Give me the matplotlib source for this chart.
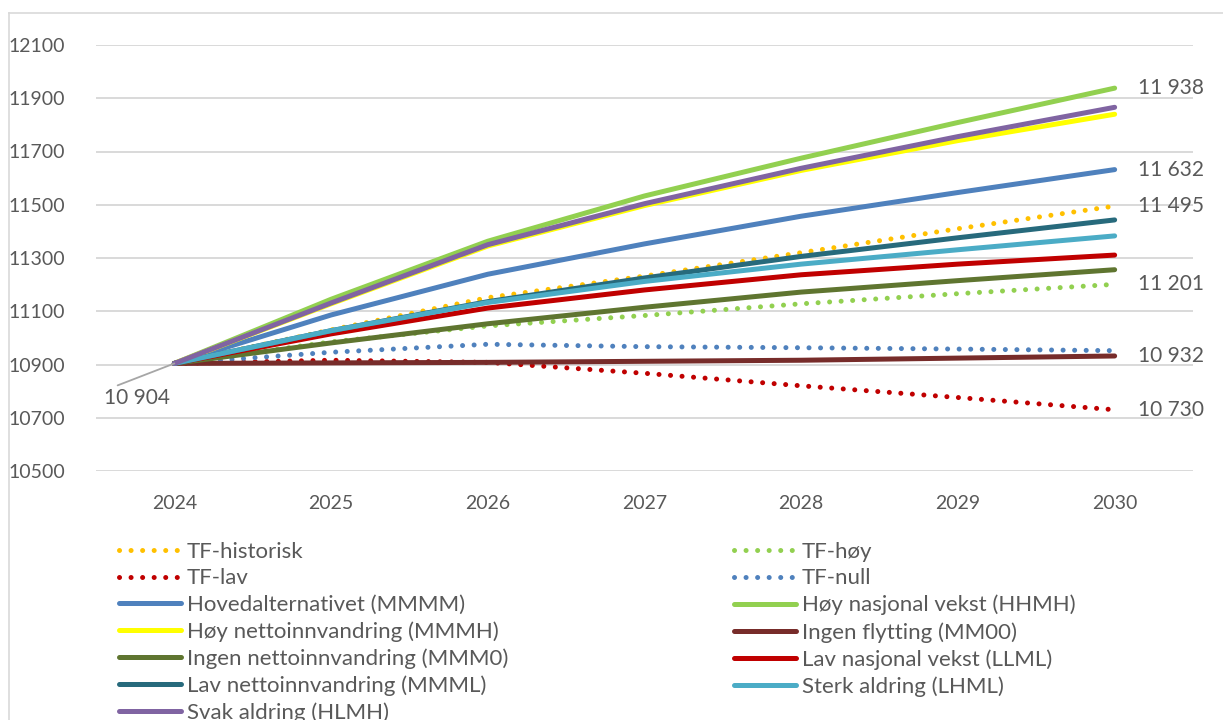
import matplotlib
matplotlib.use("Agg")
import matplotlib.pyplot as plt
from matplotlib.lines import Line2D

plt.rcParams["font.family"] = ["Lato", "DejaVu Sans"]

years = ["2024", "2025", "2026", "2027", "2028", "2029", "2030"]

tf_historisk = [10904, 11030, 11151, 11232, 11320, 11410, 11495]
tf_hoy = [10904, 10985, 11045, 11084, 11128, 11166, 11201]
tf_lav = [10904, 10916, 10908, 10867, 10820, 10776, 10730]
tf_null = [10904, 10946, 10976, 10967, 10963, 10958, 10952]
hovedalt = [10904, 11086, 11239, 11353, 11457, 11546, 11632]
hoy_nasjonal = [10904, 11145, 11363, 11533, 11675, 11809, 11938]
hoy_netto = [10904, 11128, 11345, 11497, 11629, 11741, 11840]
ingen_flytting = [10904, 10906, 10908, 10912, 10916, 10924, 10932]
ingen_netto = [10904, 10981, 11053, 11115, 11172, 11215, 11256]
lav_nasjonal = [10904, 11015, 11112, 11180, 11237, 11277, 11311]
lav_netto = [10904, 11027, 11136, 11225, 11306, 11376, 11443]
sterk_aldring = [10904, 11027, 11133, 11212, 11277, 11331, 11383]
svak_aldring = [10904, 11131, 11350, 11504, 11637, 11756, 11866]

# (label, values, colour, dotted)
series = [
    ("TF-historisk", tf_historisk, "#FFC000", True),
    ("TF-høy", tf_hoy, "#92D050", True),
    ("TF-lav", tf_lav, "#C00000", True),
    ("TF-null", tf_null, "#4F81BD", True),
    ("Hovedalternativet (MMMM)", hovedalt, "#4F81BD", False),
    ("Høy nasjonal vekst (HHMH)", hoy_nasjonal, "#92D050", False),
    ("Høy nettoinnvandring (MMMH)", hoy_netto, "#FFFF00", False),
    ("Ingen flytting (MM00)", ingen_flytting, "#772C2A", False),
    ("Ingen nettoinnvandring (MMM0)", ingen_netto, "#5F7530", False),
    ("Lav nasjonal vekst (LLML)", lav_nasjonal, "#C00000", False),
    ("Lav nettoinnvandring (MMML)", lav_netto, "#276A7C", False),
    ("Sterk aldring (LHML)", sterk_aldring, "#4BACC6", False),
    ("Svak aldring (HLMH)", svak_aldring, "#8064A2", False),
]

end_labels = [hoy_nasjonal, hovedalt, tf_historisk, tf_hoy, ingen_flytting, tf_lav]

TEXT = "#595959"
LW = 3.6
DOT = (0, (0.01, 2.3))


def fmt(v):
    return f"{v:,}".replace(",", " ")


fig = plt.figure(figsize=(12.23, 7.2), dpi=100)
ax = fig.add_axes([96 / 1223, 249 / 720, 1097 / 1223, 426 / 720])

x = list(range(len(years)))
handles = []
for label, vals, color, dotted in series:
    ls = DOT if dotted else "-"
    (ln,) = ax.plot(x, vals, color=color, lw=LW, ls=ls,
                    solid_capstyle="round", dash_capstyle="round", label=label)
    handles.append(ln)

for vals in end_labels:
    ax.annotate(fmt(vals[-1]), (x[-1], vals[-1]), xytext=(17, 0),
                textcoords="offset points", ha="left", va="center",
                fontsize=15, color=TEXT)

ax.annotate(fmt(tf_historisk[0]), (x[0], tf_historisk[0]), xytext=(-27, -25),
            textcoords="offset points", ha="center", va="center",
            fontsize=15, color=TEXT,
            arrowprops=dict(arrowstyle="-", color="#A6A6A6", lw=1.3,
                            relpos=(0.1, 1.0), shrinkA=0, shrinkB=0))

ax.set_xlim(-0.5, 6.5)
ax.set_ylim(10500, 12100)
ax.set_yticks(range(10500, 12101, 200))
ax.set_xticks(x)
ax.set_xticklabels(years)
ax.grid(axis="y", color="#D9D9D9", lw=1.4)
ax.set_axisbelow(True)
for s in ax.spines.values():
    s.set_visible(False)
ax.tick_params(axis="both", length=0, labelsize=14, colors=TEXT)
ax.tick_params(axis="x", pad=17)
ax.tick_params(axis="y", pad=22)

# two legend columns, filled row by row like the original
col1 = handles[0::2]
col2 = handles[1::2]
leg_kw = dict(frameon=False, fontsize=16, handlelength=2.8, handletextpad=0.25,
              labelspacing=0.29, borderpad=0, borderaxespad=0, labelcolor=TEXT,
              loc="upper left")
fig.legend(col1, [h.get_label() for h in col1],
           bbox_to_anchor=(119 / 1223, 1 - 542 / 720), **leg_kw)
fig.legend(col2, [h.get_label() for h in col2],
           bbox_to_anchor=(734 / 1223, 1 - 542 / 720), **leg_kw)

# chart border (cut off at the right and bottom)
fig.add_artist(Line2D([9 / 1223, 1], [1 - 13 / 720, 1 - 13 / 720],
                      color="#D9D9D9", lw=1.2))
fig.add_artist(Line2D([9 / 1223, 9 / 1223], [0, 1 - 13 / 720],
                      color="#D9D9D9", lw=1.2))

fig.savefig("out.png", dpi=100)
